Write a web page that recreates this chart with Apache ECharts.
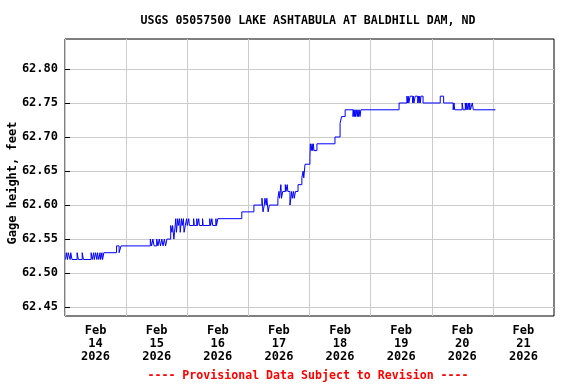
<!DOCTYPE html>
<html>
<head>
<meta charset="utf-8">
<script src="https://cdn.jsdelivr.net/npm/echarts@6/dist/echarts.min.js"></script>
<style>html,body{margin:0;padding:0;background:#fff}#c{width:576px;height:384px}</style>
</head>
<body>
<div id="c"></div>
<script>
const chartTitle = 'USGS 05057500 LAKE ASHTABULA AT BALDHILL DAM, ND';
const yAxisName = 'Gage height, feet';
const footNote = '---- Provisional Data Subject to Revision ----';
const dayLabels = ['Feb\n14\n2026','Feb\n15\n2026','Feb\n16\n2026','Feb\n17\n2026','Feb\n18\n2026','Feb\n19\n2026','Feb\n20\n2026','Feb\n21\n2026'];
const times = [
'02-14 00:15','02-14 00:30','02-14 01:00','02-14 01:15','02-14 02:00','02-14 02:15','02-14 02:45','02-14 04:45','02-14 05:15','02-14 06:45',
'02-14 07:15','02-14 10:15','02-14 10:45','02-14 11:15','02-14 11:30','02-14 12:00','02-14 12:30','02-14 12:45','02-14 13:15','02-14 13:45',
'02-14 14:00','02-14 14:30','02-14 14:45','02-14 15:15','02-14 20:15','02-14 21:15','02-14 22:00','02-15 09:30','02-15 10:00','02-15 10:30',
'02-15 11:00','02-15 12:00','02-15 12:30','02-15 13:00','02-15 13:30','02-15 14:00','02-15 14:30','02-15 15:00','02-15 15:30','02-15 16:00',
'02-15 17:30','02-15 18:00','02-15 18:15','02-15 18:45','02-15 19:00','02-15 19:30','02-15 19:45','02-15 20:15','02-15 20:30','02-15 21:00',
'02-15 21:15','02-15 21:45','02-15 22:00','02-15 22:30','02-15 22:45','02-15 23:15','02-15 23:45','02-16 00:00','02-16 00:35','02-16 00:50',
'02-16 02:30','02-16 02:45','02-16 03:45','02-16 04:00','02-16 04:30','02-16 04:45','02-16 06:00','02-16 06:15','02-16 08:50','02-16 09:10',
'02-16 09:40','02-16 10:00','02-16 11:15','02-16 11:30','02-16 12:00','02-16 21:25','02-17 02:10','02-17 05:20','02-17 05:45','02-17 06:15',
'02-17 06:30','02-17 07:00','02-17 07:15','02-17 07:45','02-17 08:15','02-17 11:35','02-17 12:00','02-17 12:15','02-17 12:45','02-17 13:00',
'02-17 13:30','02-17 14:30','02-17 14:45','02-17 15:15','02-17 15:30','02-17 16:20','02-17 17:00','02-17 17:15','02-17 17:45','02-17 18:00',
'02-17 18:30','02-17 19:30','02-17 21:00','02-17 21:30','02-17 21:45','02-17 22:15','02-18 00:10','02-18 00:20','02-18 00:40','02-18 01:00',
'02-18 01:15','02-18 01:30','02-18 01:45','02-18 02:55','02-18 10:00','02-18 12:00','02-18 12:35','02-18 14:00','02-18 17:05','02-18 17:20',
'02-18 17:35','02-18 17:50','02-18 18:05','02-18 18:20','02-18 18:45','02-18 19:00','02-18 19:15','02-18 19:30','02-18 19:50','02-18 20:10',
'02-19 11:10','02-19 14:15','02-19 14:30','02-19 14:45','02-19 15:00','02-19 15:30','02-19 16:30','02-19 16:45','02-19 17:00','02-19 17:30',
'02-19 18:30','02-19 18:45','02-19 19:00','02-19 19:15','02-19 19:30','02-19 19:45','02-19 20:35','02-20 03:20','02-20 04:40','02-20 08:25',
'02-20 08:45','02-20 09:00','02-20 11:55','02-20 12:20','02-20 13:10','02-20 13:25','02-20 13:40','02-20 13:55','02-20 14:20','02-20 14:40',
'02-20 14:55','02-20 15:10','02-20 15:55','02-20 16:20','02-21 01:00'
];
const values = [
62.52,62.53,62.52,62.53,62.52,62.53,62.52,62.53,62.52,62.53,
62.52,62.53,62.52,62.53,62.52,62.53,62.52,62.53,62.52,62.53,
62.52,62.53,62.52,62.53,62.54,62.53,62.54,62.55,62.54,62.55,
62.54,62.55,62.54,62.55,62.54,62.55,62.54,62.55,62.54,62.55,
62.57,62.56,62.57,62.55,62.56,62.58,62.56,62.58,62.57,62.58,
62.56,62.58,62.57,62.58,62.56,62.57,62.58,62.57,62.58,62.57,
62.58,62.57,62.58,62.57,62.58,62.57,62.58,62.57,62.58,62.57,
62.58,62.57,62.58,62.57,62.58,62.59,62.60,62.61,62.59,62.60,
62.61,62.60,62.61,62.59,62.60,62.61,62.62,62.61,62.63,62.61,
62.62,62.63,62.62,62.63,62.62,62.60,62.62,62.61,62.62,62.61,
62.62,62.63,62.64,62.65,62.64,62.66,62.67,62.69,62.68,62.69,
62.68,62.69,62.68,62.69,62.70,62.72,62.73,62.74,62.73,62.74,
62.73,62.74,62.73,62.74,62.73,62.74,62.73,62.74,62.73,62.74,
62.75,62.76,62.75,62.76,62.75,62.76,62.75,62.76,62.75,62.76,
62.75,62.76,62.75,62.76,62.75,62.76,62.75,62.76,62.75,62.74,
62.75,62.74,62.75,62.74,62.75,62.74,62.75,62.74,62.75,62.74,
62.75,62.74,62.75,62.74,62.74
];
const yMin = 62.437, yMax = 62.844;
const xStart = [2026, 2, 14], xEnd = [2026, 2, 22];

function ts(s) {
  const parts = s.split(' ');
  const md = parts[0].split('-').map(Number);
  const hm = parts[1].split(':').map(Number);
  return Date.UTC(2026, md[0] - 1, md[1], hm[0], hm[1]);
}
const seriesData = times.map((t, i) => [ts(t), values[i]]);
const FONT = 'DejaVu Sans Mono';

const chart = echarts.init(document.getElementById('c'), null, {renderer: 'canvas'});
chart.setOption({
  useUTC: true,
  animation: false,
  backgroundColor: '#fff',
  title: [
    {text: chartTitle, left: 303, top: 10, textAlign: 'center',
     textStyle: {fontFamily: FONT, fontSize: 11.6, fontWeight: 'bold', color: '#000'}},
    {text: footNote, left: 303, top: 365, textAlign: 'center',
     textStyle: {fontFamily: FONT, fontSize: 11.6, fontWeight: 'bold', color: '#ff0000'}}
  ],
  grid: {left: 65, top: 39, right: 22, bottom: 68, containLabel: false, outerBoundsMode: 'none',
         show: true, borderColor: '#000', borderWidth: 1, backgroundColor: '#fff'},
  xAxis: [
    {type: 'time', min: Date.UTC(xStart[0], xStart[1]-1, xStart[2]), max: Date.UTC(xEnd[0], xEnd[1]-1, xEnd[2]),
     interval: 86400000,
     axisLine: {show: false}, axisTick: {show: false}, axisLabel: {show: false},
     splitLine: {show: true, showMinLine: false, showMaxLine: false, lineStyle: {color: '#cccccc', width: 1}}},
    {type: 'category', data: dayLabels, position: 'bottom', boundaryGap: true,
     axisLine: {show: false}, axisTick: {show: false}, splitLine: {show: false},
     axisLabel: {margin: 8, fontFamily: FONT, fontSize: 12, fontWeight: 'bold', color: '#000', lineHeight: 13, interval: 0}}
  ],
  yAxis: {
    type: 'value', min: yMin, max: yMax, minInterval: 0.05, maxInterval: 0.05,
    name: yAxisName, nameLocation: 'middle', nameGap: 46, nameRotate: 90, nameMoveOverlap: false,
    nameTextStyle: {fontFamily: FONT, fontSize: 12, fontWeight: 'bold', color: '#000', padding: [0, 11, 0, 0]},
    axisLine: {show: false},
    axisTick: {show: true, inside: true, length: 5, lineStyle: {color: '#000'}},
    axisLabel: {showMinLabel: false, showMaxLabel: false, margin: 7, fontFamily: FONT, fontSize: 12, fontWeight: 'bold', color: '#000',
      formatter: v => v.toFixed(2)},
    splitLine: {show: true, showMinLine: false, showMaxLine: false, lineStyle: {color: '#cccccc', width: 1}}
  },
  series: [{
    type: 'line', xAxisIndex: 0, step: 'end', showSymbol: false, symbol: 'none',
    data: seriesData, lineStyle: {color: '#0000ff', width: 1}
  }]
});
</script>
</body>
</html>
